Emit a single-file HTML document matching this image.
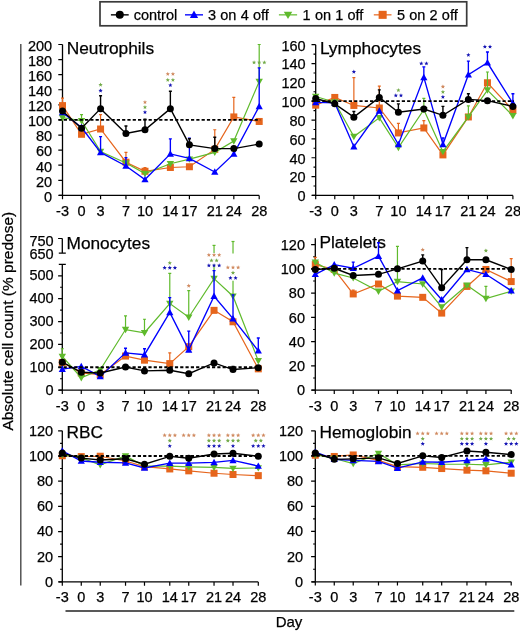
<!DOCTYPE html>
<html><head><meta charset="utf-8"><style>
html,body{margin:0;padding:0;background:#fff;}
body{width:520px;height:632px;overflow:hidden;}
svg{display:block;will-change:transform;}
text{stroke:#000;stroke-width:0.25px;}
</style></head><body>
<svg width="520" height="632" viewBox="0 0 520 632">
<g font-family='"Liberation Sans", sans-serif' font-size="14.5" fill="#000">
<path d="M62.5 44.5V195.4" stroke="#000" stroke-width="1.3" fill="none"/>
<path d="M59 195.4H259.2" stroke="#000" stroke-width="1.3"/>
<path d="M62.5 195.4v3.8M81.54 195.4v3.8M100.57 195.4v3.8M125.95 195.4v3.8M144.99 195.4v3.8M170.37 195.4v3.8M189.4 195.4v3.8M214.78 195.4v3.8M233.82 195.4v3.8M259.2 195.4v3.8" stroke="#000" stroke-width="1.2"/>
<path d="M58.3 195.4H62.5M58.3 180.31H62.5M58.3 165.22H62.5M58.3 150.13H62.5M58.3 135.04H62.5M58.3 119.95H62.5M58.3 104.86H62.5M58.3 89.77H62.5M58.3 74.68H62.5M58.3 59.59H62.5M58.3 44.5H62.5" stroke="#000" stroke-width="1.2"/>
<text x="52.2" y="201.7" text-anchor="end">0</text>
<text x="52.2" y="186.61" text-anchor="end">20</text>
<text x="52.2" y="171.52" text-anchor="end">40</text>
<text x="52.2" y="156.43" text-anchor="end">60</text>
<text x="52.2" y="141.34" text-anchor="end">80</text>
<text x="52.2" y="126.25" text-anchor="end">100</text>
<text x="52.2" y="111.16" text-anchor="end">120</text>
<text x="52.2" y="96.07" text-anchor="end">140</text>
<text x="52.2" y="80.98" text-anchor="end">160</text>
<text x="52.2" y="65.89" text-anchor="end">180</text>
<text x="52.2" y="50.8" text-anchor="end">200</text>
<text x="62.5" y="215.9" text-anchor="middle">-3</text>
<text x="81.54" y="215.9" text-anchor="middle">0</text>
<text x="100.57" y="215.9" text-anchor="middle">3</text>
<text x="125.95" y="215.9" text-anchor="middle">7</text>
<text x="144.99" y="215.9" text-anchor="middle">10</text>
<text x="170.37" y="215.9" text-anchor="middle">14</text>
<text x="189.4" y="215.9" text-anchor="middle">17</text>
<text x="214.78" y="215.9" text-anchor="middle">21</text>
<text x="233.82" y="215.9" text-anchor="middle">24</text>
<text x="259.2" y="215.9" text-anchor="middle">28</text>
<text x="66.7" y="54.2" font-size="17.3">Neutrophils</text>
<path d="M62.5 105.61V98.07M61 98.07H64" stroke="#e6651c" stroke-width="1.2"/><path d="M100.57 129V114.67M99.07 114.67H102.07" stroke="#e6651c" stroke-width="1.2"/><path d="M125.95 162.2V152.39M124.45 152.39H127.45" stroke="#e6651c" stroke-width="1.2"/><path d="M144.99 171.26V167.48M143.49 167.48H146.49" stroke="#e6651c" stroke-width="1.2"/><path d="M214.78 149.38V129.76M213.28 129.76H216.28" stroke="#e6651c" stroke-width="1.2"/><path d="M233.82 116.93V97.31M232.32 97.31H235.32" stroke="#e6651c" stroke-width="1.2"/><polyline points="62.5,105.61 81.54,134.29 100.57,129 125.95,162.2 144.99,171.26 170.37,167.48 189.4,166.73 214.78,149.38 233.82,116.93 259.2,121.46" fill="none" stroke="#e6651c" stroke-width="1.2" stroke-linejoin="miter"/><rect x="59" y="102.11" width="7" height="7" fill="#e6651c"/><rect x="78.04" y="130.79" width="7" height="7" fill="#e6651c"/><rect x="97.07" y="125.5" width="7" height="7" fill="#e6651c"/><rect x="122.45" y="158.7" width="7" height="7" fill="#e6651c"/><rect x="141.49" y="167.76" width="7" height="7" fill="#e6651c"/><rect x="166.87" y="163.98" width="7" height="7" fill="#e6651c"/><rect x="185.9" y="163.23" width="7" height="7" fill="#e6651c"/><rect x="211.28" y="145.88" width="7" height="7" fill="#e6651c"/><rect x="230.32" y="113.43" width="7" height="7" fill="#e6651c"/><rect x="255.7" y="117.96" width="7" height="7" fill="#e6651c"/>
<path d="M81.54 120.7V114.67M80.04 114.67H83.04" stroke="#5fba2c" stroke-width="1.2"/><path d="M259.2 81.47V44.5M257.7 44.5H260.7" stroke="#5fba2c" stroke-width="1.2"/><polyline points="62.5,117.69 81.54,120.7 100.57,151.64 125.95,162.96 144.99,173.52 170.37,163.71 189.4,159.18 214.78,152.39 233.82,141.08 259.2,81.47" fill="none" stroke="#5fba2c" stroke-width="1.2" stroke-linejoin="miter"/><path d="M62.5 121.36L66.2 114.89H58.8Z" fill="#5fba2c"/><path d="M81.54 124.38L85.24 117.9H77.84Z" fill="#5fba2c"/><path d="M100.57 155.31L104.27 148.84H96.87Z" fill="#5fba2c"/><path d="M125.95 166.63L129.65 160.16H122.25Z" fill="#5fba2c"/><path d="M144.99 177.19L148.69 170.72H141.29Z" fill="#5fba2c"/><path d="M170.37 167.39L174.07 160.91H166.67Z" fill="#5fba2c"/><path d="M189.4 162.86L193.1 156.38H185.7Z" fill="#5fba2c"/><path d="M214.78 156.07L218.48 149.59H211.08Z" fill="#5fba2c"/><path d="M233.82 144.75L237.52 138.28H230.12Z" fill="#5fba2c"/><path d="M259.2 85.15L262.9 78.67H255.5Z" fill="#5fba2c"/>
<path d="M100.57 152.39V136.55M99.07 136.55H102.07" stroke="#0000ff" stroke-width="1.35"/><path d="M125.95 165.97V157.68M124.45 157.68H127.45" stroke="#0000ff" stroke-width="1.35"/><path d="M170.37 153.9V138.81M168.87 138.81H171.87" stroke="#0000ff" stroke-width="1.35"/><path d="M189.4 158.43V138.06M187.9 138.06H190.9" stroke="#0000ff" stroke-width="1.35"/><path d="M259.2 106.37V67.89M257.7 67.89H260.7" stroke="#0000ff" stroke-width="1.35"/><polyline points="62.5,112.41 81.54,127.5 100.57,152.39 125.95,165.97 144.99,179.56 170.37,153.9 189.4,158.43 214.78,172.01 233.82,153.9 259.2,106.37" fill="none" stroke="#0000ff" stroke-width="1.35" stroke-linejoin="miter"/><path d="M62.5 108.73L66.1 115.2H58.9Z" fill="#0000ff"/><path d="M81.54 123.82L85.14 130.3H77.94Z" fill="#0000ff"/><path d="M100.57 148.72L104.17 155.19H96.97Z" fill="#0000ff"/><path d="M125.95 162.3L129.55 168.77H122.35Z" fill="#0000ff"/><path d="M144.99 175.88L148.59 182.36H141.39Z" fill="#0000ff"/><path d="M170.37 150.23L173.97 156.7H166.77Z" fill="#0000ff"/><path d="M189.4 154.75L193 161.23H185.8Z" fill="#0000ff"/><path d="M214.78 168.34L218.38 174.81H211.18Z" fill="#0000ff"/><path d="M233.82 150.23L237.42 156.7H230.22Z" fill="#0000ff"/><path d="M259.2 102.69L262.8 109.17H255.6Z" fill="#0000ff"/>
<path d="M58.5 119.95H260.2" stroke="#000" stroke-width="1.8" stroke-dasharray="3.2 2.1"/>
<path d="M100.57 108.63V95.81M99.07 95.81H102.07" stroke="#000000" stroke-width="1.4"/><path d="M125.95 133.53V125.99M124.45 125.99H127.45" stroke="#000000" stroke-width="1.4"/><path d="M144.99 129.76V119.2M143.49 119.2H146.49" stroke="#000000" stroke-width="1.4"/><path d="M170.37 108.63V91.28M168.87 91.28H171.87" stroke="#000000" stroke-width="1.4"/><path d="M189.4 144.85V138.81M187.9 138.81H190.9" stroke="#000000" stroke-width="1.4"/><path d="M214.78 148.62V137.3M213.28 137.3H216.28" stroke="#000000" stroke-width="1.4"/><polyline points="62.5,110.9 81.54,128.25 100.57,108.63 125.95,133.53 144.99,129.76 170.37,108.63 189.4,144.85 214.78,148.62 233.82,148.62 259.2,144.09" fill="none" stroke="#000000" stroke-width="1.4" stroke-linejoin="miter"/><circle cx="62.5" cy="110.9" r="3.5" fill="#000000"/><circle cx="81.54" cy="128.25" r="3.5" fill="#000000"/><circle cx="100.57" cy="108.63" r="3.5" fill="#000000"/><circle cx="125.95" cy="133.53" r="3.5" fill="#000000"/><circle cx="144.99" cy="129.76" r="3.5" fill="#000000"/><circle cx="170.37" cy="108.63" r="3.5" fill="#000000"/><circle cx="189.4" cy="144.85" r="3.5" fill="#000000"/><circle cx="214.78" cy="148.62" r="3.5" fill="#000000"/><circle cx="233.82" cy="148.62" r="3.5" fill="#000000"/><circle cx="259.2" cy="144.09" r="3.5" fill="#000000"/>
<path d="M100.57 82.6L101.16 84.04L102.71 84.15L101.52 85.16L101.89 86.67L100.57 85.85L99.25 86.67L99.62 85.16L98.43 84.15L99.98 84.04Z" fill="#72aa48"/>
<path d="M100.57 88.4L101.16 89.84L102.71 89.95L101.52 90.96L101.89 92.47L100.57 91.65L99.25 92.47L99.62 90.96L98.43 89.95L99.98 89.84Z" fill="#1414b4"/>
<path d="M144.99 100L145.57 101.44L147.13 101.55L145.94 102.56L146.31 104.07L144.99 103.25L143.66 104.07L144.04 102.56L142.85 101.55L144.4 101.44Z" fill="#d08a60"/>
<path d="M144.99 105L145.57 106.44L147.13 106.55L145.94 107.56L146.31 109.07L144.99 108.25L143.66 109.07L144.04 107.56L142.85 106.55L144.4 106.44Z" fill="#72aa48"/>
<path d="M144.99 110L145.57 111.44L147.13 111.55L145.94 112.56L146.31 114.07L144.99 113.25L143.66 114.07L144.04 112.56L142.85 111.55L144.4 111.44Z" fill="#1414b4"/>
<path d="M167.79 71.8L168.38 73.24L169.93 73.35L168.74 74.36L169.12 75.87L167.79 75.05L166.47 75.87L166.84 74.36L165.65 73.35L167.2 73.24ZM172.94 71.8L173.53 73.24L175.08 73.35L173.89 74.36L174.27 75.87L172.94 75.05L171.62 75.87L171.99 74.36L170.8 73.35L172.35 73.24Z" fill="#d08a60"/>
<path d="M167.79 77.7L168.38 79.14L169.93 79.25L168.74 80.26L169.12 81.77L167.79 80.95L166.47 81.77L166.84 80.26L165.65 79.25L167.2 79.14ZM172.94 77.7L173.53 79.14L175.08 79.25L173.89 80.26L174.27 81.77L172.94 80.95L171.62 81.77L171.99 80.26L170.8 79.25L172.35 79.14Z" fill="#72aa48"/>
<path d="M170.37 83L170.96 84.44L172.51 84.55L171.32 85.56L171.69 87.07L170.37 86.25L169.05 87.07L169.42 85.56L168.23 84.55L169.78 84.44Z" fill="#1414b4"/>
<path d="M254.05 60.3L254.64 61.74L256.19 61.85L255 62.86L255.37 64.37L254.05 63.55L252.73 64.37L253.1 62.86L251.91 61.85L253.46 61.74ZM259.2 60.3L259.79 61.74L261.34 61.85L260.15 62.86L260.52 64.37L259.2 63.55L257.88 64.37L258.25 62.86L257.06 61.85L258.61 61.74ZM264.35 60.3L264.94 61.74L266.49 61.85L265.3 62.86L265.67 64.37L264.35 63.55L263.03 64.37L263.4 62.86L262.21 61.85L263.76 61.74Z" fill="#72aa48"/>
<path d="M315.7 44.7V195.4" stroke="#000" stroke-width="1.3" fill="none"/>
<path d="M312.2 195.4H512.9" stroke="#000" stroke-width="1.3"/>
<path d="M315.7 195.4v3.8M334.78 195.4v3.8M353.87 195.4v3.8M379.31 195.4v3.8M398.4 195.4v3.8M423.84 195.4v3.8M442.93 195.4v3.8M468.37 195.4v3.8M487.45 195.4v3.8M512.9 195.4v3.8" stroke="#000" stroke-width="1.2"/>
<path d="M311.5 195.4H315.7M311.5 176.56H315.7M311.5 157.73H315.7M311.5 138.89H315.7M311.5 120.05H315.7M311.5 101.21H315.7M311.5 82.38H315.7M311.5 63.54H315.7M311.5 44.7H315.7" stroke="#000" stroke-width="1.2"/>
<path d="M313.5 185.98H315.7M313.5 167.14H315.7M313.5 148.31H315.7M313.5 129.47H315.7M313.5 110.63H315.7M313.5 91.79H315.7M313.5 72.96H315.7M313.5 54.12H315.7" stroke="#000" stroke-width="1.1"/>
<text x="305.7" y="201.2" text-anchor="end">0</text>
<text x="305.7" y="182.36" text-anchor="end">20</text>
<text x="305.7" y="163.53" text-anchor="end">40</text>
<text x="305.7" y="144.69" text-anchor="end">60</text>
<text x="305.7" y="125.85" text-anchor="end">80</text>
<text x="305.7" y="107.01" text-anchor="end">100</text>
<text x="305.7" y="88.18" text-anchor="end">120</text>
<text x="305.7" y="69.34" text-anchor="end">140</text>
<text x="305.7" y="50.5" text-anchor="end">160</text>
<text x="315.7" y="215.9" text-anchor="middle">-3</text>
<text x="334.78" y="215.9" text-anchor="middle">0</text>
<text x="353.87" y="215.9" text-anchor="middle">3</text>
<text x="379.31" y="215.9" text-anchor="middle">7</text>
<text x="398.4" y="215.9" text-anchor="middle">10</text>
<text x="423.84" y="215.9" text-anchor="middle">14</text>
<text x="442.93" y="215.9" text-anchor="middle">17</text>
<text x="468.37" y="215.9" text-anchor="middle">21</text>
<text x="487.45" y="215.9" text-anchor="middle">24</text>
<text x="512.9" y="215.9" text-anchor="middle">28</text>
<text x="319.9" y="54.2" font-size="17.3">Lymphocytes</text>
<path d="M353.87 105.45V77.67M352.37 77.67H355.37" stroke="#e6651c" stroke-width="1.2"/><path d="M379.31 107.99V86.14M377.81 86.14H380.81" stroke="#e6651c" stroke-width="1.2"/><path d="M398.4 132.95V123.35M396.9 123.35H399.9" stroke="#e6651c" stroke-width="1.2"/><path d="M423.84 127.96V120.71M422.34 120.71H425.34" stroke="#e6651c" stroke-width="1.2"/><polyline points="315.7,105.17 334.78,97.45 353.87,105.45 379.31,107.99 398.4,132.95 423.84,127.96 442.93,154.9 468.37,116.94 487.45,82.75 512.9,110.16" fill="none" stroke="#e6651c" stroke-width="1.2" stroke-linejoin="miter"/><rect x="312.2" y="101.67" width="7" height="7" fill="#e6651c"/><rect x="331.28" y="93.95" width="7" height="7" fill="#e6651c"/><rect x="350.37" y="101.95" width="7" height="7" fill="#e6651c"/><rect x="375.81" y="104.49" width="7" height="7" fill="#e6651c"/><rect x="394.9" y="129.45" width="7" height="7" fill="#e6651c"/><rect x="420.34" y="124.46" width="7" height="7" fill="#e6651c"/><rect x="439.43" y="151.4" width="7" height="7" fill="#e6651c"/><rect x="464.87" y="113.44" width="7" height="7" fill="#e6651c"/><rect x="483.95" y="79.25" width="7" height="7" fill="#e6651c"/><rect x="509.4" y="106.66" width="7" height="7" fill="#e6651c"/>
<path d="M423.84 109.69V98.39M422.34 98.39H425.34" stroke="#5fba2c" stroke-width="1.2"/><path d="M468.37 116.94V105.92M466.87 105.92H469.87" stroke="#5fba2c" stroke-width="1.2"/><path d="M487.45 90.1V72.01M485.95 72.01H488.95" stroke="#5fba2c" stroke-width="1.2"/><polyline points="315.7,96.5 334.78,102.15 353.87,136.53 379.31,117.88 398.4,147.55 423.84,109.69 442.93,151.7 468.37,116.94 487.45,90.1 512.9,115.91" fill="none" stroke="#5fba2c" stroke-width="1.2" stroke-linejoin="miter"/><path d="M315.7 100.18L319.4 93.7H312Z" fill="#5fba2c"/><path d="M334.78 105.83L338.48 99.35H331.08Z" fill="#5fba2c"/><path d="M353.87 140.21L357.57 133.73H350.17Z" fill="#5fba2c"/><path d="M379.31 121.56L383.01 115.08H375.61Z" fill="#5fba2c"/><path d="M398.4 151.23L402.1 144.75H394.7Z" fill="#5fba2c"/><path d="M423.84 113.36L427.54 106.89H420.14Z" fill="#5fba2c"/><path d="M442.93 155.37L446.63 148.9H439.23Z" fill="#5fba2c"/><path d="M468.37 120.62L472.07 114.14H464.67Z" fill="#5fba2c"/><path d="M487.45 93.77L491.15 87.3H483.75Z" fill="#5fba2c"/><path d="M512.9 119.58L516.6 113.11H509.2Z" fill="#5fba2c"/>
<path d="M423.84 77.38V66.83M422.34 66.83H425.34" stroke="#0000ff" stroke-width="1.35"/><path d="M442.93 144.35V138.04M441.43 138.04H444.43" stroke="#0000ff" stroke-width="1.35"/><path d="M468.37 74.75V61.18M466.87 61.18H469.87" stroke="#0000ff" stroke-width="1.35"/><path d="M487.45 62.78V51.95M485.95 51.95H488.95" stroke="#0000ff" stroke-width="1.35"/><path d="M512.9 103.28V93.77M511.4 93.77H514.4" stroke="#0000ff" stroke-width="1.35"/><polyline points="315.7,102.34 334.78,102.91 353.87,146.71 379.31,111.01 398.4,144.54 423.84,77.38 442.93,144.35 468.37,74.75 487.45,62.78 512.9,103.28" fill="none" stroke="#0000ff" stroke-width="1.35" stroke-linejoin="miter"/><path d="M315.7 98.67L319.3 105.14H312.1Z" fill="#0000ff"/><path d="M334.78 99.23L338.38 105.71H331.18Z" fill="#0000ff"/><path d="M353.87 143.03L357.47 149.51H350.27Z" fill="#0000ff"/><path d="M379.31 107.33L382.91 113.81H375.71Z" fill="#0000ff"/><path d="M398.4 140.86L402 147.34H394.8Z" fill="#0000ff"/><path d="M423.84 73.71L427.44 80.18H420.24Z" fill="#0000ff"/><path d="M442.93 140.68L446.53 147.15H439.33Z" fill="#0000ff"/><path d="M468.37 71.07L471.97 77.55H464.77Z" fill="#0000ff"/><path d="M487.45 59.11L491.05 65.58H483.85Z" fill="#0000ff"/><path d="M512.9 99.61L516.5 106.08H509.3Z" fill="#0000ff"/>
<path d="M311.7 101.21H513.9" stroke="#000" stroke-width="1.8" stroke-dasharray="3.2 2.1"/>
<path d="M353.87 117.13V111.57M352.37 111.57H355.37" stroke="#000000" stroke-width="1.4"/><path d="M379.31 97.45V89.91M377.81 89.91H380.81" stroke="#000000" stroke-width="1.4"/><path d="M398.4 112.23V103.85M396.9 103.85H399.9" stroke="#000000" stroke-width="1.4"/><path d="M442.93 115.34V106.39M441.43 106.39H444.43" stroke="#000000" stroke-width="1.4"/><path d="M468.37 99.42V93.77M466.87 93.77H469.87" stroke="#000000" stroke-width="1.4"/><polyline points="315.7,98.48 334.78,103.85 353.87,117.13 379.31,97.45 398.4,112.23 423.84,109.03 442.93,115.34 468.37,99.42 487.45,100.65 512.9,106.39" fill="none" stroke="#000000" stroke-width="1.4" stroke-linejoin="miter"/><circle cx="315.7" cy="98.48" r="3.5" fill="#000000"/><circle cx="334.78" cy="103.85" r="3.5" fill="#000000"/><circle cx="353.87" cy="117.13" r="3.5" fill="#000000"/><circle cx="379.31" cy="97.45" r="3.5" fill="#000000"/><circle cx="398.4" cy="112.23" r="3.5" fill="#000000"/><circle cx="423.84" cy="109.03" r="3.5" fill="#000000"/><circle cx="442.93" cy="115.34" r="3.5" fill="#000000"/><circle cx="468.37" cy="99.42" r="3.5" fill="#000000"/><circle cx="487.45" cy="100.65" r="3.5" fill="#000000"/><circle cx="512.9" cy="106.39" r="3.5" fill="#000000"/>
<path d="M353.87 69.6L354.46 71.04L356.01 71.15L354.82 72.16L355.19 73.67L353.87 72.85L352.55 73.67L352.92 72.16L351.73 71.15L353.28 71.04Z" fill="#1414b4"/>
<path d="M398.4 88L398.98 89.44L400.54 89.55L399.35 90.56L399.72 92.07L398.4 91.25L397.07 92.07L397.45 90.56L396.26 89.55L397.81 89.44Z" fill="#72aa48"/>
<path d="M395.82 93.3L396.41 94.74L397.96 94.85L396.77 95.86L397.14 97.37L395.82 96.55L394.5 97.37L394.87 95.86L393.68 94.85L395.23 94.74ZM400.97 93.3L401.56 94.74L403.11 94.85L401.92 95.86L402.29 97.37L400.97 96.55L399.65 97.37L400.02 95.86L398.83 94.85L400.38 94.74Z" fill="#1414b4"/>
<path d="M421.27 61.3L421.85 62.74L423.41 62.85L422.22 63.86L422.59 65.37L421.27 64.55L419.94 65.37L420.32 63.86L419.13 62.85L420.68 62.74ZM426.42 61.3L427 62.74L428.56 62.85L427.37 63.86L427.74 65.37L426.42 64.55L425.09 65.37L425.47 63.86L424.28 62.85L425.83 62.74Z" fill="#1414b4"/>
<path d="M442.93 84.4L443.51 85.84L445.07 85.95L443.88 86.96L444.25 88.47L442.93 87.65L441.6 88.47L441.97 86.96L440.79 85.95L442.34 85.84Z" fill="#d08a60"/>
<path d="M442.93 89.8L443.51 91.24L445.07 91.35L443.88 92.36L444.25 93.87L442.93 93.05L441.6 93.87L441.97 92.36L440.79 91.35L442.34 91.24Z" fill="#72aa48"/>
<path d="M442.93 94.8L443.51 96.24L445.07 96.35L443.88 97.36L444.25 98.87L442.93 98.05L441.6 98.87L441.97 97.36L440.79 96.35L442.34 96.24Z" fill="#1414b4"/>
<path d="M468.37 52.7L468.96 54.14L470.51 54.25L469.32 55.26L469.69 56.77L468.37 55.95L467.05 56.77L467.42 55.26L466.23 54.25L467.78 54.14Z" fill="#1414b4"/>
<path d="M484.88 44.5L485.47 45.94L487.02 46.05L485.83 47.06L486.2 48.57L484.88 47.75L483.56 48.57L483.93 47.06L482.74 46.05L484.29 45.94ZM490.03 44.5L490.62 45.94L492.17 46.05L490.98 47.06L491.35 48.57L490.03 47.75L488.71 48.57L489.08 47.06L487.89 46.05L489.44 45.94Z" fill="#1414b4"/>
<path d="M62.3 238.5V253.1M62.3 264.43V390.1" stroke="#000" stroke-width="1.3" fill="none"/>
<path d="M58.8 253.1H65.8M58.8 264.43H65.8" stroke="#000" stroke-width="1.3"/>
<path d="M58.8 390.1H258.3" stroke="#000" stroke-width="1.3"/>
<path d="M62.3 390.1v3.8M81.27 390.1v3.8M100.24 390.1v3.8M125.53 390.1v3.8M144.49 390.1v3.8M169.78 390.1v3.8M188.75 390.1v3.8M214.04 390.1v3.8M233.01 390.1v3.8M258.3 390.1v3.8" stroke="#000" stroke-width="1.2"/>
<path d="M58.1 390.1H62.3M58.1 367.25H62.3M58.1 344.4H62.3M58.1 321.55H62.3M58.1 298.7H62.3M58.1 275.85H62.3M58.1 238.5H62.3" stroke="#000" stroke-width="1.2"/>
<path d="M60.1 378.68H62.3M60.1 355.83H62.3M60.1 332.98H62.3M60.1 310.12H62.3M60.1 287.28H62.3" stroke="#000" stroke-width="1.1"/>
<text x="53.7" y="394.5" text-anchor="end">0</text>
<text x="53.7" y="371.65" text-anchor="end">100</text>
<text x="53.7" y="348.8" text-anchor="end">200</text>
<text x="53.7" y="325.95" text-anchor="end">300</text>
<text x="53.7" y="303.1" text-anchor="end">400</text>
<text x="53.7" y="280.25" text-anchor="end">500</text>
<text x="53.7" y="246.3" text-anchor="end">750</text>
<text x="53.7" y="259.4" text-anchor="end">650</text>
<text x="62.3" y="410.6" text-anchor="middle">-3</text>
<text x="81.27" y="410.6" text-anchor="middle">0</text>
<text x="100.24" y="410.6" text-anchor="middle">3</text>
<text x="125.53" y="410.6" text-anchor="middle">7</text>
<text x="144.49" y="410.6" text-anchor="middle">10</text>
<text x="169.78" y="410.6" text-anchor="middle">14</text>
<text x="188.75" y="410.6" text-anchor="middle">17</text>
<text x="214.04" y="410.6" text-anchor="middle">21</text>
<text x="233.01" y="410.6" text-anchor="middle">24</text>
<text x="258.3" y="410.6" text-anchor="middle">28</text>
<text x="66.5" y="248.8" font-size="17.3">Monocytes</text>
<path d="M169.78 363.59V352.85M168.28 352.85H171.28" stroke="#e6651c" stroke-width="1.2"/><polyline points="62.3,362.45 81.27,372.96 100.24,374.56 125.53,356.05 144.49,360.17 169.78,363.59 188.75,346.69 214.04,310.35 233.01,321.78 258.3,368.85" fill="none" stroke="#e6651c" stroke-width="1.2" stroke-linejoin="miter"/><rect x="58.8" y="358.95" width="7" height="7" fill="#e6651c"/><rect x="77.77" y="369.46" width="7" height="7" fill="#e6651c"/><rect x="96.74" y="371.06" width="7" height="7" fill="#e6651c"/><rect x="122.03" y="352.55" width="7" height="7" fill="#e6651c"/><rect x="140.99" y="356.67" width="7" height="7" fill="#e6651c"/><rect x="166.28" y="360.09" width="7" height="7" fill="#e6651c"/><rect x="185.25" y="343.19" width="7" height="7" fill="#e6651c"/><rect x="210.54" y="306.85" width="7" height="7" fill="#e6651c"/><rect x="229.51" y="318.28" width="7" height="7" fill="#e6651c"/><rect x="254.8" y="365.35" width="7" height="7" fill="#e6651c"/>
<path d="M62.3 356.51V348.74M60.8 348.74H63.8" stroke="#5fba2c" stroke-width="1.2"/><path d="M125.53 329.55V315.84M124.03 315.84H127.03" stroke="#5fba2c" stroke-width="1.2"/><path d="M144.49 332.75V319.26M142.99 319.26H145.99" stroke="#5fba2c" stroke-width="1.2"/><path d="M169.78 303.5V273.34M168.28 273.34H171.28" stroke="#5fba2c" stroke-width="1.2"/><path d="M188.75 317.21V290.7M187.25 290.7H190.25" stroke="#5fba2c" stroke-width="1.2"/><path d="M214.04 278.59V264.43" stroke="#5fba2c" stroke-width="1.2"/><path d="M214.04 253.1V245.4" stroke="#5fba2c" stroke-width="1.2"/><path d="M212.54 245.4H215.54" stroke="#5fba2c" stroke-width="1.2"/><path d="M233.01 296.19V280.8" stroke="#5fba2c" stroke-width="1.2"/><path d="M233.01 253.5V241.5" stroke="#5fba2c" stroke-width="1.2"/><path d="M231.51 241.5H234.51" stroke="#5fba2c" stroke-width="1.2"/><polyline points="62.3,356.51 81.27,377.76 100.24,369.76 125.53,329.55 144.49,332.75 169.78,303.5 188.75,317.21 214.04,278.59 233.01,296.19 258.3,360.85" fill="none" stroke="#5fba2c" stroke-width="1.2" stroke-linejoin="miter"/><path d="M62.3 360.19L66 353.71H58.6Z" fill="#5fba2c"/><path d="M81.27 381.44L84.97 374.96H77.57Z" fill="#5fba2c"/><path d="M100.24 373.44L103.94 366.96H96.54Z" fill="#5fba2c"/><path d="M125.53 333.22L129.23 326.75H121.83Z" fill="#5fba2c"/><path d="M144.49 336.42L148.19 329.95H140.79Z" fill="#5fba2c"/><path d="M169.78 307.17L173.48 300.7H166.08Z" fill="#5fba2c"/><path d="M188.75 320.88L192.45 314.41H185.05Z" fill="#5fba2c"/><path d="M214.04 282.27L217.74 275.79H210.34Z" fill="#5fba2c"/><path d="M233.01 299.86L236.71 293.39H229.31Z" fill="#5fba2c"/><path d="M258.3 364.53L262 358.05H254.6Z" fill="#5fba2c"/>
<path d="M125.53 352.85V348.28M124.03 348.28H127.03" stroke="#0000ff" stroke-width="1.35"/><path d="M144.49 354.68V348.74M142.99 348.74H145.99" stroke="#0000ff" stroke-width="1.35"/><path d="M169.78 312.41V297.56M168.28 297.56H171.28" stroke="#0000ff" stroke-width="1.35"/><path d="M188.75 349.88V331.15M187.25 331.15H190.25" stroke="#0000ff" stroke-width="1.35"/><path d="M214.04 296.19V270.59M212.54 270.59H215.54" stroke="#0000ff" stroke-width="1.35"/><path d="M233.01 318.58V294.82M231.51 294.82H234.51" stroke="#0000ff" stroke-width="1.35"/><path d="M258.3 350.8V338M256.8 338H259.8" stroke="#0000ff" stroke-width="1.35"/><polyline points="62.3,369.08 81.27,366.34 100.24,376.39 125.53,352.85 144.49,354.68 169.78,312.41 188.75,349.88 214.04,296.19 233.01,318.58 258.3,350.8" fill="none" stroke="#0000ff" stroke-width="1.35" stroke-linejoin="miter"/><path d="M62.3 365.4L65.9 371.88H58.7Z" fill="#0000ff"/><path d="M81.27 362.66L84.87 369.14H77.67Z" fill="#0000ff"/><path d="M100.24 372.72L103.84 379.19H96.64Z" fill="#0000ff"/><path d="M125.53 349.18L129.13 355.65H121.93Z" fill="#0000ff"/><path d="M144.49 351.01L148.09 357.48H140.89Z" fill="#0000ff"/><path d="M169.78 308.74L173.38 315.21H166.18Z" fill="#0000ff"/><path d="M188.75 346.21L192.35 352.68H185.15Z" fill="#0000ff"/><path d="M214.04 292.51L217.64 298.99H210.44Z" fill="#0000ff"/><path d="M233.01 314.9L236.61 321.38H229.41Z" fill="#0000ff"/><path d="M258.3 347.12L261.9 353.6H254.7Z" fill="#0000ff"/>
<path d="M58.3 367.25H259.3" stroke="#000" stroke-width="1.8" stroke-dasharray="3.2 2.1"/>
<path d="M233.01 369.54V366.34M231.51 366.34H234.51" stroke="#000000" stroke-width="1.4"/><polyline points="62.3,362.22 81.27,372.28 100.24,372.96 125.53,367.02 144.49,370.91 169.78,370.22 188.75,373.65 214.04,362.91 233.01,369.54 258.3,367.71" fill="none" stroke="#000000" stroke-width="1.4" stroke-linejoin="miter"/><circle cx="62.3" cy="362.22" r="3.5" fill="#000000"/><circle cx="81.27" cy="372.28" r="3.5" fill="#000000"/><circle cx="100.24" cy="372.96" r="3.5" fill="#000000"/><circle cx="125.53" cy="367.02" r="3.5" fill="#000000"/><circle cx="144.49" cy="370.91" r="3.5" fill="#000000"/><circle cx="169.78" cy="370.22" r="3.5" fill="#000000"/><circle cx="188.75" cy="373.65" r="3.5" fill="#000000"/><circle cx="214.04" cy="362.91" r="3.5" fill="#000000"/><circle cx="233.01" cy="369.54" r="3.5" fill="#000000"/><circle cx="258.3" cy="367.71" r="3.5" fill="#000000"/>
<path d="M169.78 260.8L170.37 262.24L171.92 262.35L170.73 263.36L171.11 264.87L169.78 264.05L168.46 264.87L168.83 263.36L167.64 262.35L169.2 262.24Z" fill="#72aa48"/>
<path d="M164.63 265.6L165.22 267.04L166.77 267.15L165.58 268.16L165.96 269.67L164.63 268.85L163.31 269.67L163.68 268.16L162.49 267.15L164.05 267.04ZM169.78 265.6L170.37 267.04L171.92 267.15L170.73 268.16L171.11 269.67L169.78 268.85L168.46 269.67L168.83 268.16L167.64 267.15L169.2 267.04ZM174.93 265.6L175.52 267.04L177.07 267.15L175.88 268.16L176.26 269.67L174.93 268.85L173.61 269.67L173.98 268.16L172.79 267.15L174.35 267.04Z" fill="#1414b4"/>
<path d="M188.75 283.6L189.34 285.04L190.89 285.15L189.7 286.16L190.07 287.67L188.75 286.85L187.43 287.67L187.8 286.16L186.61 285.15L188.16 285.04Z" fill="#d08a60"/>
<path d="M208.89 252.8L209.48 254.24L211.03 254.35L209.84 255.36L210.21 256.87L208.89 256.05L207.57 256.87L207.94 255.36L206.75 254.35L208.3 254.24ZM214.04 252.8L214.63 254.24L216.18 254.35L214.99 255.36L215.36 256.87L214.04 256.05L212.72 256.87L213.09 255.36L211.9 254.35L213.45 254.24ZM219.19 252.8L219.78 254.24L221.33 254.35L220.14 255.36L220.51 256.87L219.19 256.05L217.87 256.87L218.24 255.36L217.05 254.35L218.6 254.24Z" fill="#d08a60"/>
<path d="M211.47 258.2L212.05 259.64L213.61 259.75L212.42 260.76L212.79 262.27L211.47 261.45L210.14 262.27L210.52 260.76L209.33 259.75L210.88 259.64ZM216.62 258.2L217.2 259.64L218.76 259.75L217.57 260.76L217.94 262.27L216.62 261.45L215.29 262.27L215.67 260.76L214.48 259.75L216.03 259.64Z" fill="#72aa48"/>
<path d="M208.89 263.3L209.48 264.74L211.03 264.85L209.84 265.86L210.21 267.37L208.89 266.55L207.57 267.37L207.94 265.86L206.75 264.85L208.3 264.74ZM214.04 263.3L214.63 264.74L216.18 264.85L214.99 265.86L215.36 267.37L214.04 266.55L212.72 267.37L213.09 265.86L211.9 264.85L213.45 264.74ZM219.19 263.3L219.78 264.74L221.33 264.85L220.14 265.86L220.51 267.37L219.19 266.55L217.87 267.37L218.24 265.86L217.05 264.85L218.6 264.74Z" fill="#1414b4"/>
<path d="M227.86 265.3L228.45 266.74L230 266.85L228.81 267.86L229.18 269.37L227.86 268.55L226.54 269.37L226.91 267.86L225.72 266.85L227.27 266.74ZM233.01 265.3L233.6 266.74L235.15 266.85L233.96 267.86L234.33 269.37L233.01 268.55L231.69 269.37L232.06 267.86L230.87 266.85L232.42 266.74ZM238.16 265.3L238.75 266.74L240.3 266.85L239.11 267.86L239.48 269.37L238.16 268.55L236.84 269.37L237.21 267.86L236.02 266.85L237.57 266.74Z" fill="#d08a60"/>
<path d="M233.01 270.6L233.6 272.04L235.15 272.15L233.96 273.16L234.33 274.67L233.01 273.85L231.69 274.67L232.06 273.16L230.87 272.15L232.42 272.04Z" fill="#72aa48"/>
<path d="M230.43 275.7L231.02 277.14L232.57 277.25L231.39 278.26L231.76 279.77L230.43 278.95L229.11 279.77L229.48 278.26L228.29 277.25L229.85 277.14ZM235.58 275.7L236.17 277.14L237.72 277.25L236.54 278.26L236.91 279.77L235.58 278.95L234.26 279.77L234.63 278.26L233.44 277.25L235 277.14Z" fill="#1414b4"/>
<path d="M315.3 238.2V390.1" stroke="#000" stroke-width="1.3" fill="none"/>
<path d="M311.8 390.1H511.2" stroke="#000" stroke-width="1.3"/>
<path d="M315.3 390.1v3.8M334.26 390.1v3.8M353.22 390.1v3.8M378.49 390.1v3.8M397.45 390.1v3.8M422.73 390.1v3.8M441.69 390.1v3.8M466.96 390.1v3.8M485.92 390.1v3.8M511.2 390.1v3.8" stroke="#000" stroke-width="1.2"/>
<path d="M311.1 390.1H315.3M311.1 365.85H315.3M311.1 341.6H315.3M311.1 317.35H315.3M311.1 293.1H315.3M311.1 268.85H315.3M311.1 244.6H315.3" stroke="#000" stroke-width="1.2"/>
<path d="M313.1 377.98H315.3M313.1 353.73H315.3M313.1 329.48H315.3M313.1 305.23H315.3M313.1 280.98H315.3M313.1 256.73H315.3" stroke="#000" stroke-width="1.1"/>
<text x="305" y="395.4" text-anchor="end">0</text>
<text x="305" y="371.15" text-anchor="end">20</text>
<text x="305" y="346.9" text-anchor="end">40</text>
<text x="305" y="322.65" text-anchor="end">60</text>
<text x="305" y="298.4" text-anchor="end">80</text>
<text x="305" y="274.15" text-anchor="end">100</text>
<text x="305" y="249.9" text-anchor="end">120</text>
<text x="315.3" y="410.6" text-anchor="middle">-3</text>
<text x="334.26" y="410.6" text-anchor="middle">0</text>
<text x="353.22" y="410.6" text-anchor="middle">3</text>
<text x="378.49" y="410.6" text-anchor="middle">7</text>
<text x="397.45" y="410.6" text-anchor="middle">10</text>
<text x="422.73" y="410.6" text-anchor="middle">14</text>
<text x="441.69" y="410.6" text-anchor="middle">17</text>
<text x="466.96" y="410.6" text-anchor="middle">21</text>
<text x="485.92" y="410.6" text-anchor="middle">24</text>
<text x="511.2" y="410.6" text-anchor="middle">28</text>
<text x="319.5" y="248.4" font-size="17.3">Platelets</text>
<path d="M315.3 264.6V257.33M313.8 257.33H316.8" stroke="#e6651c" stroke-width="1.2"/><path d="M353.22 293.94V290.06M351.72 290.06H354.72" stroke="#e6651c" stroke-width="1.2"/><path d="M511.2 281.58V258.54M509.7 258.54H512.7" stroke="#e6651c" stroke-width="1.2"/><polyline points="315.3,264.6 334.26,269.45 353.22,293.94 378.49,284 397.45,296.12 422.73,297.34 441.69,313.1 466.96,286.43 485.92,269.45 511.2,281.58" fill="none" stroke="#e6651c" stroke-width="1.2" stroke-linejoin="miter"/><rect x="311.8" y="261.1" width="7" height="7" fill="#e6651c"/><rect x="330.76" y="265.95" width="7" height="7" fill="#e6651c"/><rect x="349.72" y="290.44" width="7" height="7" fill="#e6651c"/><rect x="374.99" y="280.5" width="7" height="7" fill="#e6651c"/><rect x="393.95" y="292.62" width="7" height="7" fill="#e6651c"/><rect x="419.23" y="293.84" width="7" height="7" fill="#e6651c"/><rect x="438.19" y="309.6" width="7" height="7" fill="#e6651c"/><rect x="463.46" y="282.93" width="7" height="7" fill="#e6651c"/><rect x="482.42" y="265.95" width="7" height="7" fill="#e6651c"/><rect x="507.7" y="278.08" width="7" height="7" fill="#e6651c"/>
<path d="M397.45 281.58V246.41M395.95 246.41H398.95" stroke="#5fba2c" stroke-width="1.2"/><path d="M485.92 298.55V286.43M484.42 286.43H487.42" stroke="#5fba2c" stroke-width="1.2"/><polyline points="315.3,262.18 334.26,273.09 353.22,277.94 378.49,291.28 397.45,281.58 422.73,284 441.69,307.04 466.96,285.21 485.92,298.55 511.2,291.28" fill="none" stroke="#5fba2c" stroke-width="1.2" stroke-linejoin="miter"/><path d="M315.3 265.85L319 259.38H311.6Z" fill="#5fba2c"/><path d="M334.26 276.76L337.96 270.29H330.56Z" fill="#5fba2c"/><path d="M353.22 281.61L356.92 275.14H349.52Z" fill="#5fba2c"/><path d="M378.49 294.95L382.19 288.48H374.79Z" fill="#5fba2c"/><path d="M397.45 285.25L401.15 278.78H393.75Z" fill="#5fba2c"/><path d="M422.73 287.68L426.43 281.2H419.03Z" fill="#5fba2c"/><path d="M441.69 310.71L445.39 304.24H437.99Z" fill="#5fba2c"/><path d="M466.96 288.89L470.66 282.41H463.26Z" fill="#5fba2c"/><path d="M485.92 302.23L489.62 295.75H482.22Z" fill="#5fba2c"/><path d="M511.2 294.95L514.9 288.48H507.5Z" fill="#5fba2c"/>
<path d="M353.22 268.24V262.18M351.72 262.18H354.72" stroke="#0000ff" stroke-width="1.35"/><path d="M378.49 256.11V242.78M376.99 242.78H379.99" stroke="#0000ff" stroke-width="1.35"/><polyline points="315.3,274.3 334.26,264.6 353.22,268.24 378.49,256.11 397.45,290.67 422.73,277.94 441.69,299.76 466.96,269.45 485.92,274.3 511.2,290.67" fill="none" stroke="#0000ff" stroke-width="1.35" stroke-linejoin="miter"/><path d="M315.3 270.63L318.9 277.1H311.7Z" fill="#0000ff"/><path d="M334.26 260.93L337.86 267.4H330.66Z" fill="#0000ff"/><path d="M353.22 264.56L356.82 271.04H349.62Z" fill="#0000ff"/><path d="M378.49 252.44L382.09 258.91H374.89Z" fill="#0000ff"/><path d="M397.45 286.99L401.05 293.47H393.85Z" fill="#0000ff"/><path d="M422.73 274.26L426.33 280.74H419.13Z" fill="#0000ff"/><path d="M441.69 296.09L445.29 302.56H438.09Z" fill="#0000ff"/><path d="M466.96 265.78L470.56 272.25H463.36Z" fill="#0000ff"/><path d="M485.92 270.63L489.52 277.1H482.32Z" fill="#0000ff"/><path d="M511.2 286.99L514.8 293.47H507.6Z" fill="#0000ff"/>
<path d="M311.3 268.85H512.2" stroke="#000" stroke-width="1.8" stroke-dasharray="3.2 2.1"/>
<path d="M422.73 260.96V254.9M421.23 254.9H424.23" stroke="#000000" stroke-width="1.4"/><path d="M441.69 287.64V269.45M440.19 269.45H443.19" stroke="#000000" stroke-width="1.4"/><path d="M466.96 259.75V247.62M465.46 247.62H468.46" stroke="#000000" stroke-width="1.4"/><polyline points="315.3,269.45 334.26,268.24 353.22,275.51 378.49,274.3 397.45,268.84 422.73,260.96 441.69,287.64 466.96,259.75 485.92,259.75 511.2,269.45" fill="none" stroke="#000000" stroke-width="1.4" stroke-linejoin="miter"/><circle cx="315.3" cy="269.45" r="3.5" fill="#000000"/><circle cx="334.26" cy="268.24" r="3.5" fill="#000000"/><circle cx="353.22" cy="275.51" r="3.5" fill="#000000"/><circle cx="378.49" cy="274.3" r="3.5" fill="#000000"/><circle cx="397.45" cy="268.84" r="3.5" fill="#000000"/><circle cx="422.73" cy="260.96" r="3.5" fill="#000000"/><circle cx="441.69" cy="287.64" r="3.5" fill="#000000"/><circle cx="466.96" cy="259.75" r="3.5" fill="#000000"/><circle cx="485.92" cy="259.75" r="3.5" fill="#000000"/><circle cx="511.2" cy="269.45" r="3.5" fill="#000000"/>
<path d="M422.73 247.5L423.32 248.94L424.87 249.05L423.68 250.06L424.05 251.57L422.73 250.75L421.41 251.57L421.78 250.06L420.59 249.05L422.14 248.94Z" fill="#d08a60"/>
<path d="M485.92 248.4L486.51 249.84L488.06 249.95L486.87 250.96L487.25 252.47L485.92 251.65L484.6 252.47L484.97 250.96L483.78 249.95L485.33 249.84Z" fill="#72aa48"/>
<path d="M62.3 430.8V581.9" stroke="#000" stroke-width="1.3" fill="none"/>
<path d="M58.8 581.9H258.3" stroke="#000" stroke-width="1.3"/>
<path d="M62.3 581.9v3.8M81.27 581.9v3.8M100.24 581.9v3.8M125.53 581.9v3.8M144.49 581.9v3.8M169.78 581.9v3.8M188.75 581.9v3.8M214.04 581.9v3.8M233.01 581.9v3.8M258.3 581.9v3.8" stroke="#000" stroke-width="1.2"/>
<path d="M58.1 581.9H62.3M58.1 556.72H62.3M58.1 531.53H62.3M58.1 506.35H62.3M58.1 481.17H62.3M58.1 455.98H62.3M58.1 430.8H62.3" stroke="#000" stroke-width="1.2"/>
<path d="M60.1 569.31H62.3M60.1 544.12H62.3M60.1 518.94H62.3M60.1 493.76H62.3M60.1 468.57H62.3M60.1 443.39H62.3" stroke="#000" stroke-width="1.1"/>
<text x="53.1" y="586.8" text-anchor="end">0</text>
<text x="53.1" y="561.62" text-anchor="end">20</text>
<text x="53.1" y="536.43" text-anchor="end">40</text>
<text x="53.1" y="511.25" text-anchor="end">60</text>
<text x="53.1" y="486.07" text-anchor="end">80</text>
<text x="53.1" y="460.88" text-anchor="end">100</text>
<text x="53.1" y="435.7" text-anchor="end">120</text>
<text x="62.3" y="602.4" text-anchor="middle">-3</text>
<text x="81.27" y="602.4" text-anchor="middle">0</text>
<text x="100.24" y="602.4" text-anchor="middle">3</text>
<text x="125.53" y="602.4" text-anchor="middle">7</text>
<text x="144.49" y="602.4" text-anchor="middle">10</text>
<text x="169.78" y="602.4" text-anchor="middle">14</text>
<text x="188.75" y="602.4" text-anchor="middle">17</text>
<text x="214.04" y="602.4" text-anchor="middle">21</text>
<text x="233.01" y="602.4" text-anchor="middle">24</text>
<text x="258.3" y="602.4" text-anchor="middle">28</text>
<text x="66.5" y="438.3" font-size="17.3">RBC</text>
<polyline points="62.3,455.73 81.27,456.61 100.24,456.24 125.53,461.02 144.49,466.69 169.78,468.95 188.75,470.84 214.04,473.23 233.01,474.49 258.3,475.63" fill="none" stroke="#e6651c" stroke-width="1.2" stroke-linejoin="miter"/><rect x="58.8" y="452.23" width="7" height="7" fill="#e6651c"/><rect x="77.77" y="453.11" width="7" height="7" fill="#e6651c"/><rect x="96.74" y="452.74" width="7" height="7" fill="#e6651c"/><rect x="122.03" y="457.52" width="7" height="7" fill="#e6651c"/><rect x="140.99" y="463.19" width="7" height="7" fill="#e6651c"/><rect x="166.28" y="465.45" width="7" height="7" fill="#e6651c"/><rect x="185.25" y="467.34" width="7" height="7" fill="#e6651c"/><rect x="210.54" y="469.73" width="7" height="7" fill="#e6651c"/><rect x="229.51" y="470.99" width="7" height="7" fill="#e6651c"/><rect x="254.8" y="472.13" width="7" height="7" fill="#e6651c"/>
<polyline points="62.3,454.72 81.27,457.87 100.24,464.8 125.53,455.98 144.49,466.06 169.78,466.06 188.75,466.81 214.04,467.32 233.01,468.45 258.3,467.95" fill="none" stroke="#5fba2c" stroke-width="1.2" stroke-linejoin="miter"/><path d="M62.3 458.4L66 451.92H58.6Z" fill="#5fba2c"/><path d="M81.27 461.55L84.97 455.07H77.57Z" fill="#5fba2c"/><path d="M100.24 468.47L103.94 462H96.54Z" fill="#5fba2c"/><path d="M125.53 459.66L129.23 453.18H121.83Z" fill="#5fba2c"/><path d="M144.49 469.73L148.19 463.26H140.79Z" fill="#5fba2c"/><path d="M169.78 469.73L173.48 463.26H166.08Z" fill="#5fba2c"/><path d="M188.75 470.49L192.45 464.01H185.05Z" fill="#5fba2c"/><path d="M214.04 470.99L217.74 464.52H210.34Z" fill="#5fba2c"/><path d="M233.01 472.12L236.71 465.65H229.31Z" fill="#5fba2c"/><path d="M258.3 471.62L262 465.15H254.6Z" fill="#5fba2c"/>
<polyline points="62.3,450.95 81.27,461.02 100.24,462.28 125.53,462.91 144.49,467.95 169.78,463.16 188.75,463.16 214.04,462.41 233.01,460.39 258.3,466.06" fill="none" stroke="#0000ff" stroke-width="1.35" stroke-linejoin="miter"/><path d="M62.3 447.27L65.9 453.75H58.7Z" fill="#0000ff"/><path d="M81.27 457.34L84.87 463.82H77.67Z" fill="#0000ff"/><path d="M100.24 458.6L103.84 465.08H96.64Z" fill="#0000ff"/><path d="M125.53 459.23L129.13 465.71H121.93Z" fill="#0000ff"/><path d="M144.49 464.27L148.09 470.75H140.89Z" fill="#0000ff"/><path d="M169.78 459.49L173.38 465.96H166.18Z" fill="#0000ff"/><path d="M188.75 459.49L192.35 465.96H185.15Z" fill="#0000ff"/><path d="M214.04 458.73L217.64 465.21H210.44Z" fill="#0000ff"/><path d="M233.01 456.72L236.61 463.19H229.41Z" fill="#0000ff"/><path d="M258.3 462.38L261.9 468.86H254.7Z" fill="#0000ff"/>
<path d="M58.3 455.98H259.3" stroke="#000" stroke-width="1.8" stroke-dasharray="3.2 2.1"/>
<polyline points="62.3,453.09 81.27,458.12 100.24,460.01 125.53,458.75 144.49,464.29 169.78,456.36 188.75,458.25 214.04,453.97 233.01,453.21 258.3,456.36" fill="none" stroke="#000000" stroke-width="1.4" stroke-linejoin="miter"/><circle cx="62.3" cy="453.09" r="3.5" fill="#000000"/><circle cx="81.27" cy="458.12" r="3.5" fill="#000000"/><circle cx="100.24" cy="460.01" r="3.5" fill="#000000"/><circle cx="125.53" cy="458.75" r="3.5" fill="#000000"/><circle cx="144.49" cy="464.29" r="3.5" fill="#000000"/><circle cx="169.78" cy="456.36" r="3.5" fill="#000000"/><circle cx="188.75" cy="458.25" r="3.5" fill="#000000"/><circle cx="214.04" cy="453.97" r="3.5" fill="#000000"/><circle cx="233.01" cy="453.21" r="3.5" fill="#000000"/><circle cx="258.3" cy="456.36" r="3.5" fill="#000000"/>
<path d="M164.63 433.1L165.22 434.54L166.77 434.65L165.58 435.66L165.96 437.17L164.63 436.35L163.31 437.17L163.68 435.66L162.49 434.65L164.05 434.54ZM169.78 433.1L170.37 434.54L171.92 434.65L170.73 435.66L171.11 437.17L169.78 436.35L168.46 437.17L168.83 435.66L167.64 434.65L169.2 434.54ZM174.93 433.1L175.52 434.54L177.07 434.65L175.88 435.66L176.26 437.17L174.93 436.35L173.61 437.17L173.98 435.66L172.79 434.65L174.35 434.54Z" fill="#d08a60"/>
<path d="M169.78 438.4L170.37 439.84L171.92 439.95L170.73 440.96L171.11 442.47L169.78 441.65L168.46 442.47L168.83 440.96L167.64 439.95L169.2 439.84Z" fill="#72aa48"/>
<path d="M169.78 443.7L170.37 445.14L171.92 445.25L170.73 446.26L171.11 447.77L169.78 446.95L168.46 447.77L168.83 446.26L167.64 445.25L169.2 445.14Z" fill="#1414b4"/>
<path d="M183.6 433.1L184.19 434.54L185.74 434.65L184.55 435.66L184.92 437.17L183.6 436.35L182.28 437.17L182.65 435.66L181.46 434.65L183.01 434.54ZM188.75 433.1L189.34 434.54L190.89 434.65L189.7 435.66L190.07 437.17L188.75 436.35L187.43 437.17L187.8 435.66L186.61 434.65L188.16 434.54ZM193.9 433.1L194.49 434.54L196.04 434.65L194.85 435.66L195.22 437.17L193.9 436.35L192.58 437.17L192.95 435.66L191.76 434.65L193.31 434.54Z" fill="#d08a60"/>
<path d="M208.89 433.1L209.48 434.54L211.03 434.65L209.84 435.66L210.21 437.17L208.89 436.35L207.57 437.17L207.94 435.66L206.75 434.65L208.3 434.54ZM214.04 433.1L214.63 434.54L216.18 434.65L214.99 435.66L215.36 437.17L214.04 436.35L212.72 437.17L213.09 435.66L211.9 434.65L213.45 434.54ZM219.19 433.1L219.78 434.54L221.33 434.65L220.14 435.66L220.51 437.17L219.19 436.35L217.87 437.17L218.24 435.66L217.05 434.65L218.6 434.54Z" fill="#d08a60"/>
<path d="M208.89 438.4L209.48 439.84L211.03 439.95L209.84 440.96L210.21 442.47L208.89 441.65L207.57 442.47L207.94 440.96L206.75 439.95L208.3 439.84ZM214.04 438.4L214.63 439.84L216.18 439.95L214.99 440.96L215.36 442.47L214.04 441.65L212.72 442.47L213.09 440.96L211.9 439.95L213.45 439.84ZM219.19 438.4L219.78 439.84L221.33 439.95L220.14 440.96L220.51 442.47L219.19 441.65L217.87 442.47L218.24 440.96L217.05 439.95L218.6 439.84Z" fill="#72aa48"/>
<path d="M208.89 443.7L209.48 445.14L211.03 445.25L209.84 446.26L210.21 447.77L208.89 446.95L207.57 447.77L207.94 446.26L206.75 445.25L208.3 445.14ZM214.04 443.7L214.63 445.14L216.18 445.25L214.99 446.26L215.36 447.77L214.04 446.95L212.72 447.77L213.09 446.26L211.9 445.25L213.45 445.14ZM219.19 443.7L219.78 445.14L221.33 445.25L220.14 446.26L220.51 447.77L219.19 446.95L217.87 447.77L218.24 446.26L217.05 445.25L218.6 445.14Z" fill="#1414b4"/>
<path d="M227.86 433.1L228.45 434.54L230 434.65L228.81 435.66L229.18 437.17L227.86 436.35L226.54 437.17L226.91 435.66L225.72 434.65L227.27 434.54ZM233.01 433.1L233.6 434.54L235.15 434.65L233.96 435.66L234.33 437.17L233.01 436.35L231.69 437.17L232.06 435.66L230.87 434.65L232.42 434.54ZM238.16 433.1L238.75 434.54L240.3 434.65L239.11 435.66L239.48 437.17L238.16 436.35L236.84 437.17L237.21 435.66L236.02 434.65L237.57 434.54Z" fill="#d08a60"/>
<path d="M227.86 438.4L228.45 439.84L230 439.95L228.81 440.96L229.18 442.47L227.86 441.65L226.54 442.47L226.91 440.96L225.72 439.95L227.27 439.84ZM233.01 438.4L233.6 439.84L235.15 439.95L233.96 440.96L234.33 442.47L233.01 441.65L231.69 442.47L232.06 440.96L230.87 439.95L232.42 439.84ZM238.16 438.4L238.75 439.84L240.3 439.95L239.11 440.96L239.48 442.47L238.16 441.65L236.84 442.47L237.21 440.96L236.02 439.95L237.57 439.84Z" fill="#72aa48"/>
<path d="M233.01 443.7L233.6 445.14L235.15 445.25L233.96 446.26L234.33 447.77L233.01 446.95L231.69 447.77L232.06 446.26L230.87 445.25L232.42 445.14Z" fill="#1414b4"/>
<path d="M253.15 433.1L253.74 434.54L255.29 434.65L254.1 435.66L254.47 437.17L253.15 436.35L251.83 437.17L252.2 435.66L251.01 434.65L252.56 434.54ZM258.3 433.1L258.89 434.54L260.44 434.65L259.25 435.66L259.62 437.17L258.3 436.35L256.98 437.17L257.35 435.66L256.16 434.65L257.71 434.54ZM263.45 433.1L264.04 434.54L265.59 434.65L264.4 435.66L264.77 437.17L263.45 436.35L262.13 437.17L262.5 435.66L261.31 434.65L262.86 434.54Z" fill="#d08a60"/>
<path d="M255.73 438.4L256.31 439.84L257.86 439.95L256.68 440.96L257.05 442.47L255.73 441.65L254.4 442.47L254.77 440.96L253.59 439.95L255.14 439.84ZM260.88 438.4L261.46 439.84L263.01 439.95L261.83 440.96L262.2 442.47L260.88 441.65L259.55 442.47L259.92 440.96L258.74 439.95L260.29 439.84Z" fill="#72aa48"/>
<path d="M253.15 443.7L253.74 445.14L255.29 445.25L254.1 446.26L254.47 447.77L253.15 446.95L251.83 447.77L252.2 446.26L251.01 445.25L252.56 445.14ZM258.3 443.7L258.89 445.14L260.44 445.25L259.25 446.26L259.62 447.77L258.3 446.95L256.98 447.77L257.35 446.26L256.16 445.25L257.71 445.14ZM263.45 443.7L264.04 445.14L265.59 445.25L264.4 446.26L264.77 447.77L263.45 446.95L262.13 447.77L262.5 446.26L261.31 445.25L262.86 445.14Z" fill="#1414b4"/>
<path d="M315.3 430.8V581.8" stroke="#000" stroke-width="1.3" fill="none"/>
<path d="M311.8 581.8H511.2" stroke="#000" stroke-width="1.3"/>
<path d="M315.3 581.8v3.8M334.26 581.8v3.8M353.22 581.8v3.8M378.49 581.8v3.8M397.45 581.8v3.8M422.73 581.8v3.8M441.69 581.8v3.8M466.96 581.8v3.8M485.92 581.8v3.8M511.2 581.8v3.8" stroke="#000" stroke-width="1.2"/>
<path d="M311.1 581.8H315.3M311.1 556.63H315.3M311.1 531.47H315.3M311.1 506.3H315.3M311.1 481.13H315.3M311.1 455.97H315.3M311.1 430.8H315.3" stroke="#000" stroke-width="1.2"/>
<path d="M313.1 569.22H315.3M313.1 544.05H315.3M313.1 518.88H315.3M313.1 493.72H315.3M313.1 468.55H315.3M313.1 443.38H315.3" stroke="#000" stroke-width="1.1"/>
<text x="303.1" y="586.8" text-anchor="end">0</text>
<text x="303.1" y="561.63" text-anchor="end">20</text>
<text x="303.1" y="536.47" text-anchor="end">40</text>
<text x="303.1" y="511.3" text-anchor="end">60</text>
<text x="303.1" y="486.13" text-anchor="end">80</text>
<text x="303.1" y="460.97" text-anchor="end">100</text>
<text x="303.1" y="435.8" text-anchor="end">120</text>
<text x="315.3" y="602.3" text-anchor="middle">-3</text>
<text x="334.26" y="602.3" text-anchor="middle">0</text>
<text x="353.22" y="602.3" text-anchor="middle">3</text>
<text x="378.49" y="602.3" text-anchor="middle">7</text>
<text x="397.45" y="602.3" text-anchor="middle">10</text>
<text x="422.73" y="602.3" text-anchor="middle">14</text>
<text x="441.69" y="602.3" text-anchor="middle">17</text>
<text x="466.96" y="602.3" text-anchor="middle">21</text>
<text x="485.92" y="602.3" text-anchor="middle">24</text>
<text x="511.2" y="602.3" text-anchor="middle">28</text>
<text x="319.5" y="438.3" font-size="17.3">Hemoglobin</text>
<polyline points="315.3,455.21 334.26,456.47 353.22,454.96 378.49,460.37 397.45,466.66 422.73,467.29 441.69,468.55 466.96,470.19 485.92,470.81 511.2,473.21" fill="none" stroke="#e6651c" stroke-width="1.2" stroke-linejoin="miter"/><rect x="311.8" y="451.71" width="7" height="7" fill="#e6651c"/><rect x="330.76" y="452.97" width="7" height="7" fill="#e6651c"/><rect x="349.72" y="451.46" width="7" height="7" fill="#e6651c"/><rect x="374.99" y="456.87" width="7" height="7" fill="#e6651c"/><rect x="393.95" y="463.16" width="7" height="7" fill="#e6651c"/><rect x="419.23" y="463.79" width="7" height="7" fill="#e6651c"/><rect x="438.19" y="465.05" width="7" height="7" fill="#e6651c"/><rect x="463.46" y="466.69" width="7" height="7" fill="#e6651c"/><rect x="482.42" y="467.31" width="7" height="7" fill="#e6651c"/><rect x="507.7" y="469.71" width="7" height="7" fill="#e6651c"/>
<polyline points="315.3,454.71 334.26,458.48 353.22,463.52 378.49,453.45 397.45,464.77 422.73,463.52 441.69,464.15 466.96,464.27 485.92,464.9 511.2,462.26" fill="none" stroke="#5fba2c" stroke-width="1.2" stroke-linejoin="miter"/><path d="M315.3 458.38L319 451.91H311.6Z" fill="#5fba2c"/><path d="M334.26 462.16L337.96 455.68H330.56Z" fill="#5fba2c"/><path d="M353.22 467.19L356.92 460.72H349.52Z" fill="#5fba2c"/><path d="M378.49 457.12L382.19 450.65H374.79Z" fill="#5fba2c"/><path d="M397.45 468.45L401.15 461.97H393.75Z" fill="#5fba2c"/><path d="M422.73 467.19L426.43 460.72H419.03Z" fill="#5fba2c"/><path d="M441.69 467.82L445.39 461.35H437.99Z" fill="#5fba2c"/><path d="M466.96 467.95L470.66 461.47H463.26Z" fill="#5fba2c"/><path d="M485.92 468.58L489.62 462.1H482.22Z" fill="#5fba2c"/><path d="M511.2 465.93L514.9 459.46H507.5Z" fill="#5fba2c"/>
<polyline points="315.3,452.19 334.26,459.24 353.22,460.37 378.49,461.38 397.45,468.17 422.73,461.88 441.69,462.26 466.96,460.37 485.92,458.86 511.2,464.77" fill="none" stroke="#0000ff" stroke-width="1.35" stroke-linejoin="miter"/><path d="M315.3 448.52L318.9 454.99H311.7Z" fill="#0000ff"/><path d="M334.26 455.56L337.86 462.04H330.66Z" fill="#0000ff"/><path d="M353.22 456.7L356.82 463.17H349.62Z" fill="#0000ff"/><path d="M378.49 457.7L382.09 464.18H374.89Z" fill="#0000ff"/><path d="M397.45 464.5L401.05 470.97H393.85Z" fill="#0000ff"/><path d="M422.73 458.21L426.33 464.68H419.13Z" fill="#0000ff"/><path d="M441.69 458.58L445.29 465.06H438.09Z" fill="#0000ff"/><path d="M466.96 456.7L470.56 463.17H463.36Z" fill="#0000ff"/><path d="M485.92 455.19L489.52 461.66H482.32Z" fill="#0000ff"/><path d="M511.2 461.1L514.8 467.57H507.6Z" fill="#0000ff"/>
<path d="M311.3 455.97H512.2" stroke="#000" stroke-width="1.8" stroke-dasharray="3.2 2.1"/>
<polyline points="315.3,452.95 334.26,459.36 353.22,458.86 378.49,457.85 397.45,463.52 422.73,455.84 441.69,457.48 466.96,450.93 485.92,452.19 511.2,454.58" fill="none" stroke="#000000" stroke-width="1.4" stroke-linejoin="miter"/><circle cx="315.3" cy="452.95" r="3.5" fill="#000000"/><circle cx="334.26" cy="459.36" r="3.5" fill="#000000"/><circle cx="353.22" cy="458.86" r="3.5" fill="#000000"/><circle cx="378.49" cy="457.85" r="3.5" fill="#000000"/><circle cx="397.45" cy="463.52" r="3.5" fill="#000000"/><circle cx="422.73" cy="455.84" r="3.5" fill="#000000"/><circle cx="441.69" cy="457.48" r="3.5" fill="#000000"/><circle cx="466.96" cy="450.93" r="3.5" fill="#000000"/><circle cx="485.92" cy="452.19" r="3.5" fill="#000000"/><circle cx="511.2" cy="454.58" r="3.5" fill="#000000"/>
<path d="M417.58 431.2L418.17 432.64L419.72 432.75L418.53 433.76L418.9 435.27L417.58 434.45L416.26 435.27L416.63 433.76L415.44 432.75L416.99 432.64ZM422.73 431.2L423.32 432.64L424.87 432.75L423.68 433.76L424.05 435.27L422.73 434.45L421.41 435.27L421.78 433.76L420.59 432.75L422.14 432.64ZM427.88 431.2L428.47 432.64L430.02 432.75L428.83 433.76L429.2 435.27L427.88 434.45L426.56 435.27L426.93 433.76L425.74 432.75L427.29 432.64Z" fill="#d08a60"/>
<path d="M422.73 436.5L423.32 437.94L424.87 438.05L423.68 439.06L424.05 440.57L422.73 439.75L421.41 440.57L421.78 439.06L420.59 438.05L422.14 437.94Z" fill="#72aa48"/>
<path d="M422.73 441.6L423.32 443.04L424.87 443.15L423.68 444.16L424.05 445.67L422.73 444.85L421.41 445.67L421.78 444.16L420.59 443.15L422.14 443.04Z" fill="#1414b4"/>
<path d="M436.54 431.2L437.12 432.64L438.68 432.75L437.49 433.76L437.86 435.27L436.54 434.45L435.21 435.27L435.59 433.76L434.4 432.75L435.95 432.64ZM441.69 431.2L442.27 432.64L443.83 432.75L442.64 433.76L443.01 435.27L441.69 434.45L440.36 435.27L440.74 433.76L439.55 432.75L441.1 432.64ZM446.84 431.2L447.42 432.64L448.98 432.75L447.79 433.76L448.16 435.27L446.84 434.45L445.51 435.27L445.89 433.76L444.7 432.75L446.25 432.64Z" fill="#d08a60"/>
<path d="M461.81 431.2L462.4 432.64L463.95 432.75L462.77 433.76L463.14 435.27L461.81 434.45L460.49 435.27L460.86 433.76L459.67 432.75L461.23 432.64ZM466.96 431.2L467.55 432.64L469.1 432.75L467.92 433.76L468.29 435.27L466.96 434.45L465.64 435.27L466.01 433.76L464.82 432.75L466.38 432.64ZM472.11 431.2L472.7 432.64L474.25 432.75L473.07 433.76L473.44 435.27L472.11 434.45L470.79 435.27L471.16 433.76L469.97 432.75L471.53 432.64Z" fill="#d08a60"/>
<path d="M461.81 436.5L462.4 437.94L463.95 438.05L462.77 439.06L463.14 440.57L461.81 439.75L460.49 440.57L460.86 439.06L459.67 438.05L461.23 437.94ZM466.96 436.5L467.55 437.94L469.1 438.05L467.92 439.06L468.29 440.57L466.96 439.75L465.64 440.57L466.01 439.06L464.82 438.05L466.38 437.94ZM472.11 436.5L472.7 437.94L474.25 438.05L473.07 439.06L473.44 440.57L472.11 439.75L470.79 440.57L471.16 439.06L469.97 438.05L471.53 437.94Z" fill="#72aa48"/>
<path d="M461.81 441.6L462.4 443.04L463.95 443.15L462.77 444.16L463.14 445.67L461.81 444.85L460.49 445.67L460.86 444.16L459.67 443.15L461.23 443.04ZM466.96 441.6L467.55 443.04L469.1 443.15L467.92 444.16L468.29 445.67L466.96 444.85L465.64 445.67L466.01 444.16L464.82 443.15L466.38 443.04ZM472.11 441.6L472.7 443.04L474.25 443.15L473.07 444.16L473.44 445.67L472.11 444.85L470.79 445.67L471.16 444.16L469.97 443.15L471.53 443.04Z" fill="#1414b4"/>
<path d="M480.77 431.2L481.36 432.64L482.91 432.75L481.72 433.76L482.1 435.27L480.77 434.45L479.45 435.27L479.82 433.76L478.63 432.75L480.18 432.64ZM485.92 431.2L486.51 432.64L488.06 432.75L486.87 433.76L487.25 435.27L485.92 434.45L484.6 435.27L484.97 433.76L483.78 432.75L485.33 432.64ZM491.07 431.2L491.66 432.64L493.21 432.75L492.02 433.76L492.4 435.27L491.07 434.45L489.75 435.27L490.12 433.76L488.93 432.75L490.48 432.64Z" fill="#d08a60"/>
<path d="M480.77 436.5L481.36 437.94L482.91 438.05L481.72 439.06L482.1 440.57L480.77 439.75L479.45 440.57L479.82 439.06L478.63 438.05L480.18 437.94ZM485.92 436.5L486.51 437.94L488.06 438.05L486.87 439.06L487.25 440.57L485.92 439.75L484.6 440.57L484.97 439.06L483.78 438.05L485.33 437.94ZM491.07 436.5L491.66 437.94L493.21 438.05L492.02 439.06L492.4 440.57L491.07 439.75L489.75 440.57L490.12 439.06L488.93 438.05L490.48 437.94Z" fill="#72aa48"/>
<path d="M485.92 441.6L486.51 443.04L488.06 443.15L486.87 444.16L487.25 445.67L485.92 444.85L484.6 445.67L484.97 444.16L483.78 443.15L485.33 443.04Z" fill="#1414b4"/>
<path d="M506.05 431.2L506.64 432.64L508.19 432.75L507 433.76L507.37 435.27L506.05 434.45L504.73 435.27L505.1 433.76L503.91 432.75L505.46 432.64ZM511.2 431.2L511.79 432.64L513.34 432.75L512.15 433.76L512.52 435.27L511.2 434.45L509.88 435.27L510.25 433.76L509.06 432.75L510.61 432.64ZM516.35 431.2L516.94 432.64L518.49 432.75L517.3 433.76L517.67 435.27L516.35 434.45L515.03 435.27L515.4 433.76L514.21 432.75L515.76 432.64Z" fill="#d08a60"/>
<path d="M508.62 436.5L509.21 437.94L510.76 438.05L509.58 439.06L509.95 440.57L508.62 439.75L507.3 440.57L507.67 439.06L506.49 438.05L508.04 437.94ZM513.77 436.5L514.36 437.94L515.91 438.05L514.73 439.06L515.1 440.57L513.77 439.75L512.45 440.57L512.82 439.06L511.64 438.05L513.19 437.94Z" fill="#72aa48"/>
<path d="M506.05 441.6L506.64 443.04L508.19 443.15L507 444.16L507.37 445.67L506.05 444.85L504.73 445.67L505.1 444.16L503.91 443.15L505.46 443.04ZM511.2 441.6L511.79 443.04L513.34 443.15L512.15 444.16L512.52 445.67L511.2 444.85L509.88 445.67L510.25 444.16L509.06 443.15L510.61 443.04ZM516.35 441.6L516.94 443.04L518.49 443.15L517.3 444.16L517.67 445.67L516.35 444.85L515.03 445.67L515.4 444.16L514.21 443.15L515.76 443.04Z" fill="#1414b4"/>
<rect x="100" y="1.8" width="366.7" height="24" fill="none" stroke="#3a3a3a" stroke-width="1.7"/>
<path d="M110.9 14.85H128.7" stroke="#000000" stroke-width="1.4"/>
<circle cx="119.8" cy="14.85" r="4.02" fill="#000000"/>
<text x="133.7" y="20.3" font-size="14.5" word-spacing="0.2">control</text>
<path d="M185 14.85H203" stroke="#0000ff" stroke-width="1.35"/>
<path d="M194 10.62L198.14 18.07H189.86Z" fill="#0000ff"/>
<text x="208.0" y="20.3" font-size="14.5" word-spacing="0.2">3 on 4 off</text>
<path d="M278.9 14.85H297.1" stroke="#5fba2c" stroke-width="1.2"/>
<path d="M288 19.08L292.25 11.63H283.75Z" fill="#5fba2c"/>
<text x="302.59999999999997" y="20.3" font-size="14.5" word-spacing="0.2">1 on 1 off</text>
<path d="M373.8 14.85H391.5" stroke="#e6651c" stroke-width="1.2"/>
<rect x="378.62" y="10.82" width="8.05" height="8.05" fill="#e6651c"/>
<text x="396.9" y="20.3" font-size="14.5" word-spacing="0.2">5 on 2 off</text>
<path d="M20.8 44.1V585.5" stroke="#484848" stroke-width="1.4"/>
<text transform="translate(13,321.2) rotate(-90)" text-anchor="middle" font-size="15.5">Absolute cell count (% predose)</text>
<path d="M65.5 611H514.3" stroke="#222" stroke-width="1.4"/>
<text x="289" y="627.3" text-anchor="middle" font-size="15">Day</text>
</g>
</svg>
</body></html>
